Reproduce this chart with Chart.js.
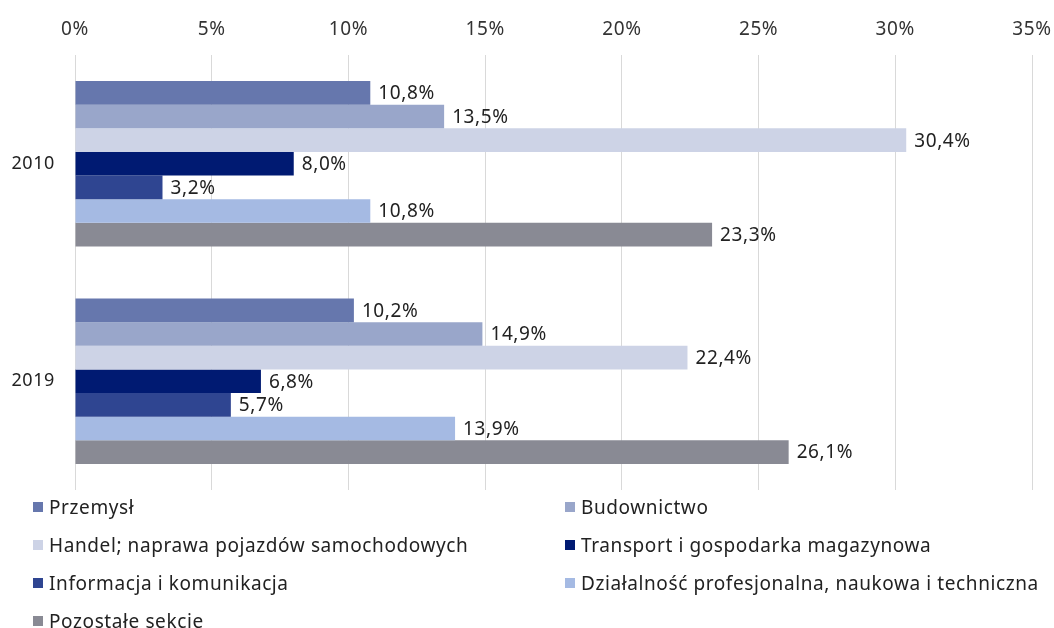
<!DOCTYPE html>
<html>
<head>
<meta charset="utf-8">
<script src="https://cdn.jsdelivr.net/npm/chart.js@4.4.0/dist/chart.umd.min.js"></script>
<style>
  html, body { margin: 0; padding: 0; background: #fff; }
  #wrap { position: relative; width: 1054px; height: 628px; }
  #legenda {
    position: absolute; left: 33px; top: 488px; width: 1021px;
    display: grid; grid-template-columns: 532px 489px; grid-auto-rows: 38px;
    font-family: "Noto Sans", sans-serif; font-size: 19px; letter-spacing: 0.6px; color: #222;
  }
  #legenda div { display: flex; align-items: center; white-space: nowrap; }
  #legenda span.box { width: 10px; height: 10px; margin-right: 6px; flex: none; }
</style>
</head>
<body>
<div id="wrap">
  <canvas id="wykres" width="1054" height="628"></canvas>
  <div id="legenda"></div>
</div>
<script>
const lata = ['2010', '2019'];
const sekcje = [
  'Przemysł',
  'Budownictwo',
  'Handel; naprawa pojazdów samochodowych',
  'Transport i gospodarka magazynowa',
  'Informacja i komunikacja',
  'Działalność profesjonalna, naukowa i techniczna',
  'Pozostałe sekcje'
];
const kolory = ['#6677ad', '#99a6ca', '#cdd3e6', '#001a72', '#2f4591', '#a5bae3', '#898a94'];
const przemysl = [10.8, 10.2];
const budownictwo = [13.5, 14.9];
const handel = [30.4, 22.4];
const transport = [8.0, 6.8];
const informacja = [3.2, 5.7];
const dzialalnosc = [10.8, 13.9];
const pozostale = [23.3, 26.1];
const osX = [0, 5, 10, 15, 20, 25, 30, 35];

const wartosci = [przemysl, budownictwo, handel, transport, informacja, dzialalnosc, pozostale];
const czcionka = '"Noto Sans", sans-serif';

// odstęp liter dla całego płótna + etykiety wartości
const etykiety = {
  id: 'etykiety',
  beforeDraw(chart) {
    chart.ctx.letterSpacing = '0.6px';
  },
  afterDatasetsDraw(chart) {
    const ctx = chart.ctx;
    ctx.save();
    ctx.letterSpacing = '0.6px';
    ctx.font = '19px ' + czcionka;
    ctx.fillStyle = '#222';
    ctx.textAlign = 'left';
    ctx.textBaseline = 'middle';
    chart.data.datasets.forEach((ds, i) => {
      chart.getDatasetMeta(i).data.forEach((bar, j) => {
        const txt = ds.data[j].toFixed(1).replace('.', ',') + '%';
        ctx.fillText(txt, bar.x + 8, bar.y + 1);
      });
    });
    ctx.restore();
  }
};

const ctx = document.getElementById('wykres').getContext('2d');
new Chart(ctx, {
  type: 'bar',
  data: {
    labels: lata,
    datasets: sekcje.map((nazwa, i) => ({
      label: nazwa,
      data: wartosci[i],
      backgroundColor: kolory[i],
      categoryPercentage: 0.76,
      barPercentage: 1
    }))
  },
  options: {
    indexAxis: 'y',
    responsive: false,
    animation: false,
    layout: { padding: { left: 0, right: 0, top: 0, bottom: 138 } },
    scales: {
      x: {
        position: 'top',
        min: 0,
        max: 35,
        afterBuildTicks: s => { s.ticks = osX.map(v => ({ value: v })); },
        afterFit: s => { s.height = 55; s.paddingRight = 22; s.paddingLeft = 0; },
        ticks: {
          callback: v => v + '%',
          font: { family: czcionka, size: 19 },
          color: '#333',
          padding: 14
        },
        grid: { color: '#d9d9d9', drawTicks: false },
        border: { display: false }
      },
      y: {
        afterFit: s => { s.width = 75; },
        ticks: {
          font: { family: czcionka, size: 18 },
          color: '#222',
          padding: 12
        },
        grid: { display: false },
        border: { display: false }
      }
    },
    plugins: {
      legend: { display: false },
      tooltip: { enabled: false }
    }
  },
  plugins: [etykiety]
});

const legenda = document.getElementById('legenda');
sekcje.forEach((nazwa, i) => {
  const d = document.createElement('div');
  d.innerHTML = '<span class="box" style="background:' + kolory[i] + '"></span>' + nazwa;
  legenda.appendChild(d);
});
</script>
</body>
</html>
